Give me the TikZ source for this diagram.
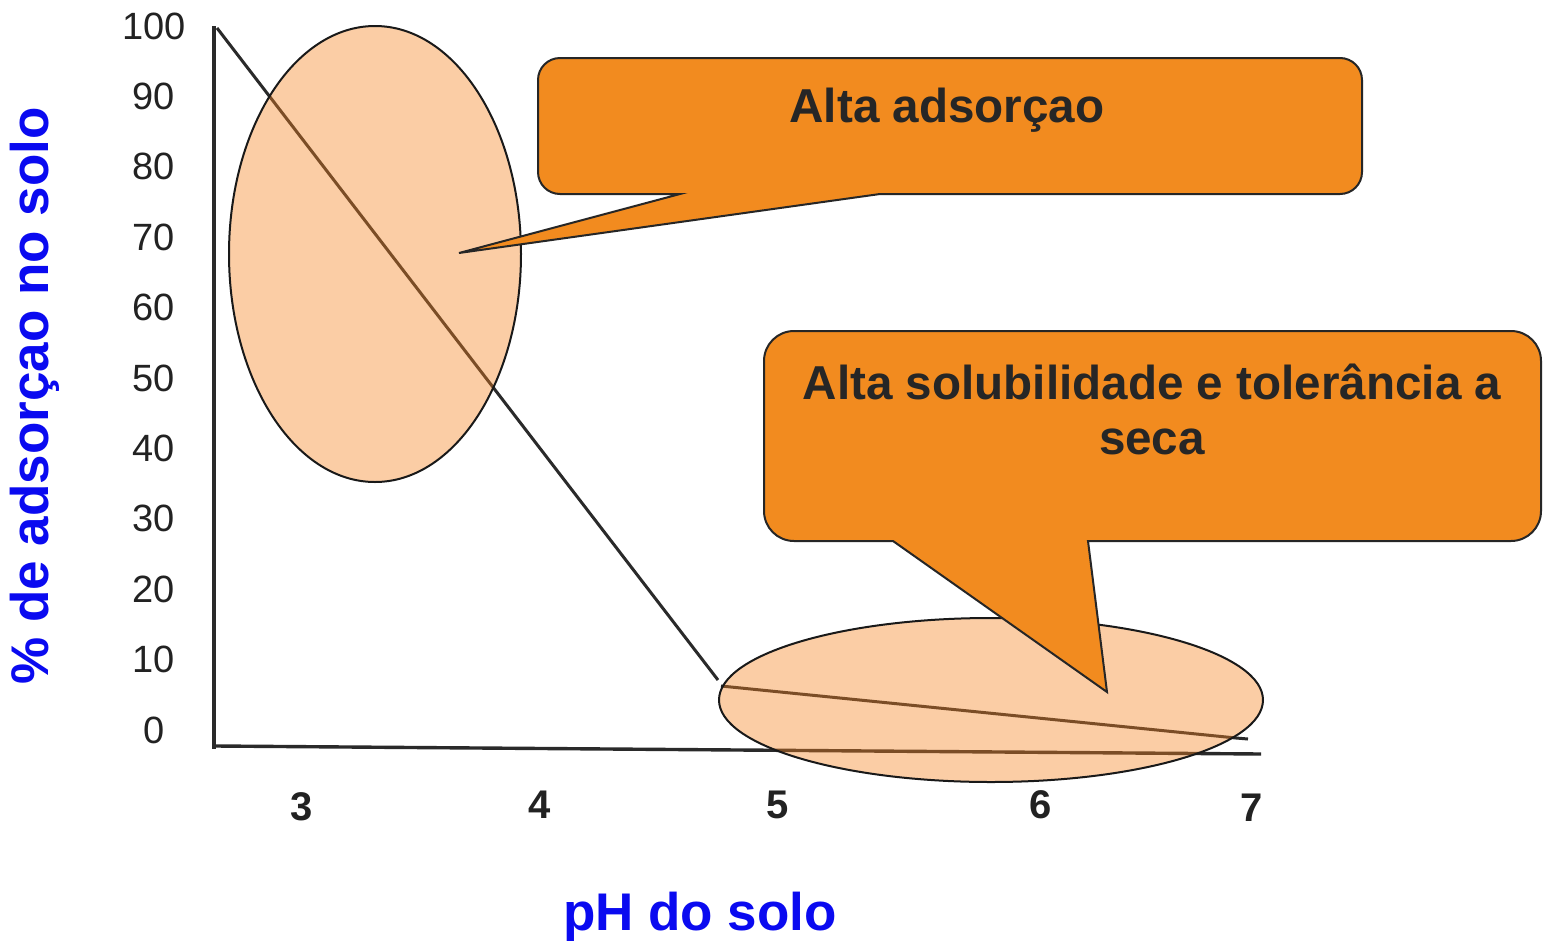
\documentclass[tikz,border=0pt]{standalone}
\usepackage{fontspec}
\setmainfont{Liberation Sans}
\definecolor{axisgray}{HTML}{2A2A2A}
\definecolor{tickgray}{HTML}{222222}
\definecolor{darktext}{HTML}{262626}
\definecolor{peach}{RGB}{245,130,32}
\definecolor{calloutorange}{RGB}{242,139,31}
\definecolor{titleblue}{RGB}{10,10,240}
\begin{document}
\begin{tikzpicture}[x=1pt,y=-1pt,
  axis/.style={line width=3.4pt, draw=axisgray},
  dataline/.style={line width=3pt, draw=axisgray},
  blob/.style={draw=black!90, line width=2pt, fill=peach, fill opacity=0.4},
  callout/.style={draw=black!85, line width=2pt, fill=calloutorange},
  ytick/.style={font=\fontsize{38}{40}\selectfont, text=tickgray, inner sep=0pt},
  xtick/.style={font=\fontsize{40}{42}\selectfont\bfseries, text=tickgray, inner sep=0pt},
  calltext/.style={font=\fontsize{47.6}{55}\selectfont\bfseries, text=darktext, inner sep=0pt},
  axtitle/.style={font=\fontsize{53}{60}\selectfont\bfseries, text=titleblue, inner sep=0pt}]
\useasboundingbox (0,0) rectangle (1543,943);
\fill[white] (0,0) rectangle (1543,943);

% axes
\coordinate (ytop) at (214,26);
\coordinate (origin) at (214,749);
\coordinate (xend) at (1261,754);
\draw[axis] (ytop) -- (origin);
\draw[axis] (216,746) -- (xend);

% data line
\coordinate (d0) at (217,28);
\coordinate (d1) at (718,680);
\coordinate (d2) at (721,686);
\coordinate (d3) at (1236,738);
\coordinate (d4) at (1248,739);
\draw[dataline] (d0) -- (d1);
\draw[dataline] (d2) -- (d3) -- (d4);

% y tick labels
\foreach \v [count=\i from 0] in {100,90,80,70,60,50,40,30,20,10,0}
  \node[ytick] (yt\i) at (154,{26+70.4*\i}) {\v};

% x tick labels
\node[xtick] (x3) at (302,807) {3};
\node[xtick] (x4) at (540,805) {4};
\node[xtick] (x5) at (778,805) {5};
\node[xtick] (x6) at (1041,805) {6};
\node[xtick] (x7) at (1252,808) {7};

% ellipses
\draw[blob] (375,254) ellipse [x radius=146, y radius=228];
\draw[blob] (991,700) ellipse [x radius=272, y radius=82];

% callout 1
\coordinate (tipA) at (459,253);
\draw[callout] (880,194) [rounded corners=22] -- (1362,194) -- (1362,58) -- (538,58) -- (538,194) [sharp corners] -- (680,194) -- (tipA) -- cycle;
\node[calltext, anchor=base] (callA) at (947,122) {Alta adsorçao};

% callout 2
\coordinate (tipB) at (1107,692);
\draw[callout] (1088,541) [rounded corners=30] -- (1541,541) -- (1541,331) -- (764,331) -- (764,541) [sharp corners] -- (893,541) -- (tipB) -- cycle;
\node[calltext, anchor=base] (callB1) at (1152,399) {Alta solubilidade e tolerância a};
\node[calltext, anchor=base] (callB2) at (1152,454) {seca};

% axis titles
\node[axtitle, rotate=90] (ytitle) at (35,396) {\% de adsorçao no solo};
\node[axtitle, anchor=base] (xtitle) at (700,930) {pH do solo};
\end{tikzpicture}
\end{document}
